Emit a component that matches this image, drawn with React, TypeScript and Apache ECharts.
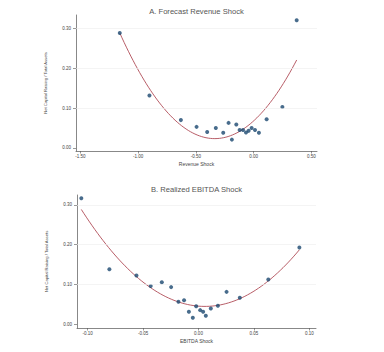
import { useEffect, useRef } from "react";
import * as echarts from "echarts";

// Panel A: Forecast revenue shock
const revenueShock = [-1.159, -0.902, -0.63, -0.494, -0.402, -0.327, -0.263, -0.217, -0.188, -0.15, -0.121, -0.092, -0.066, -0.043, -0.017, 0.012, 0.046, 0.113, 0.249, 0.373];
const revenueNCR = [0.289, 0.132, 0.07, 0.053, 0.04, 0.05, 0.038, 0.063, 0.021, 0.059, 0.045, 0.045, 0.039, 0.043, 0.05, 0.045, 0.038, 0.072, 0.103, 0.321];
// Panel B: Realized EBITDA shock
const ebitdaShock = [-0.1057, -0.0804, -0.056, -0.0431, -0.0331, -0.0247, -0.0181, -0.013, -0.0087, -0.0051, -0.0021, 0.0015, 0.0042, 0.0066, 0.0111, 0.0175, 0.0253, 0.0373, 0.063, 0.091];
const ebitdaNCR = [0.317, 0.138, 0.122, 0.0956, 0.105, 0.093, 0.056, 0.06, 0.031, 0.016, 0.045, 0.035, 0.031, 0.021, 0.039, 0.046, 0.081, 0.066, 0.112, 0.193];

// Quadratic fit coefficients: a, vertex x, vertex y
const revenueFit = [0.3923, -0.3365, 0.0235];
const revenueFitRange = [-1.159, 0.373];
const ebitdaFit = [19.64, 0.0058, 0.0444];
const ebitdaFitRange = [-0.1057, 0.091];

const revenueTicks = [-1.5, -1.0, -0.5, 0.0, 0.5];
const ebitdaTicks = [-0.1, -0.05, 0.0, 0.05, 0.1];
const yTicks = [0.0, 0.1, 0.2, 0.3];

const titles = ["A. Forecast Revenue Shock", "B. Realized EBITDA Shock"];
const xNames = ["Revenue Shock", "EBITDA Shock"];
const yName = "Net Capital Raising / Total Assets";

const FONT = "Liberation Sans, Arial, sans-serif";
const TEXT = "#444";
const AXIS = "#555";
const NAVY = "#1a476f";
const MAROON = "#b04c57";

function fitCurve(coef: number[], range: number[], n = 80) {
  const [a, h, k] = coef;
  const pts: number[][] = [];
  for (let i = 0; i <= n; i++) {
    const x = range[0] + ((range[1] - range[0]) * i) / n;
    pts.push([x, a * (x - h) * (x - h) + k]);
  }
  return pts;
}

function zip(xs: number[], ys: number[]) {
  return xs.map((x, i) => [x, ys[i]]);
}

function xAxisCfg(gridIndex: number, min: number, max: number, ticks: number[], name: string, gap: number) {
  return {
    type: "value",
    gridIndex,
    min,
    max,
    name,
    nameLocation: "middle",
    nameGap: gap,
    nameTextStyle: { fontSize: 5, color: TEXT, fontFamily: FONT },
    axisLine: { show: true, onZero: false, lineStyle: { color: AXIS, width: 0.7 } },
    axisTick: { show: true, length: 2.5, customValues: ticks, lineStyle: { color: AXIS, width: 0.6 } },
    axisLabel: {
      customValues: ticks,
      fontSize: 4.5,
      color: TEXT,
      fontFamily: FONT,
      margin: 3,
      formatter: (v: number) => v.toFixed(2),
    },
    splitLine: { show: false },
  };
}

function yAxisCfg(gridIndex: number, min: number, max: number) {
  return {
    type: "value",
    gridIndex,
    min,
    max,
    name: yName,
    nameLocation: "middle",
    nameGap: 29,
    nameTextStyle: { fontSize: 4.2, color: TEXT, fontFamily: FONT },
    axisLine: { show: true, onZero: false, lineStyle: { color: AXIS, width: 0.7 } },
    axisTick: { show: true, length: 3, customValues: yTicks, lineStyle: { color: AXIS, width: 0.6 } },
    axisLabel: {
      customValues: yTicks,
      fontSize: 4.5,
      color: TEXT,
      fontFamily: FONT,
      margin: 5,
      formatter: (v: number) => v.toFixed(2),
    },
    splitLine: { show: false },
  };
}

const gridLines = {
  silent: true,
  symbol: "none",
  label: { show: false },
  lineStyle: { color: "#ececec", width: 0.6, type: "solid" },
  data: yTicks.filter((t) => t > 0).map((t) => ({ yAxis: t })),
};

export default function App() {
  const ref = useRef<HTMLDivElement>(null);
  useEffect(() => {
    if (!ref.current) return;
    const chart = echarts.init(ref.current, undefined, { renderer: "svg" });
    chart.setOption({
      animation: false,
      backgroundColor: "#ffffff",
      grid: [
        { left: 76, top: 15, width: 241, height: 136 },
        { left: 77, top: 195, width: 239, height: 133 },
      ],
      xAxis: [
        xAxisCfg(0, -1.538, 0.549, revenueTicks, xNames[0], 10),
        xAxisCfg(1, -0.1096, 0.106, ebitdaTicks, xNames[1], 10),
      ],
      yAxis: [yAxisCfg(0, -0.0076, 0.334), yAxisCfg(1, -0.01, 0.325)],
      graphic: [
        {
          type: "text",
          x: 196.5,
          y: 11.5,
          style: { text: titles[0], fontSize: 7.6, fill: "#555", align: "center", verticalAlign: "middle", fontFamily: FONT },
        },
        {
          type: "text",
          x: 196.5,
          y: 189.5,
          style: { text: titles[1], fontSize: 7.6, fill: "#555", align: "center", verticalAlign: "middle", fontFamily: FONT },
        },
      ],
      series: [
        {
          type: "line",
          xAxisIndex: 0,
          yAxisIndex: 0,
          data: fitCurve(revenueFit, revenueFitRange),
          showSymbol: false,
          lineStyle: { color: MAROON, width: 0.9 },
          markLine: gridLines,
          z: 2,
        },
        {
          type: "scatter",
          xAxisIndex: 0,
          yAxisIndex: 0,
          data: zip(revenueShock, revenueNCR),
          symbolSize: 4,
          itemStyle: { color: NAVY },
          z: 3,
        },
        {
          type: "line",
          xAxisIndex: 1,
          yAxisIndex: 1,
          data: fitCurve(ebitdaFit, ebitdaFitRange),
          showSymbol: false,
          lineStyle: { color: MAROON, width: 0.9 },
          markLine: gridLines,
          z: 2,
        },
        {
          type: "scatter",
          xAxisIndex: 1,
          yAxisIndex: 1,
          data: zip(ebitdaShock, ebitdaNCR),
          symbolSize: 4,
          itemStyle: { color: NAVY },
          z: 3,
        },
      ],
    });
    return () => chart.dispose();
  }, []);
  return <div ref={ref} style={{ width: 384, height: 352, position: "absolute", left: 0, top: 0 }} />;
}
